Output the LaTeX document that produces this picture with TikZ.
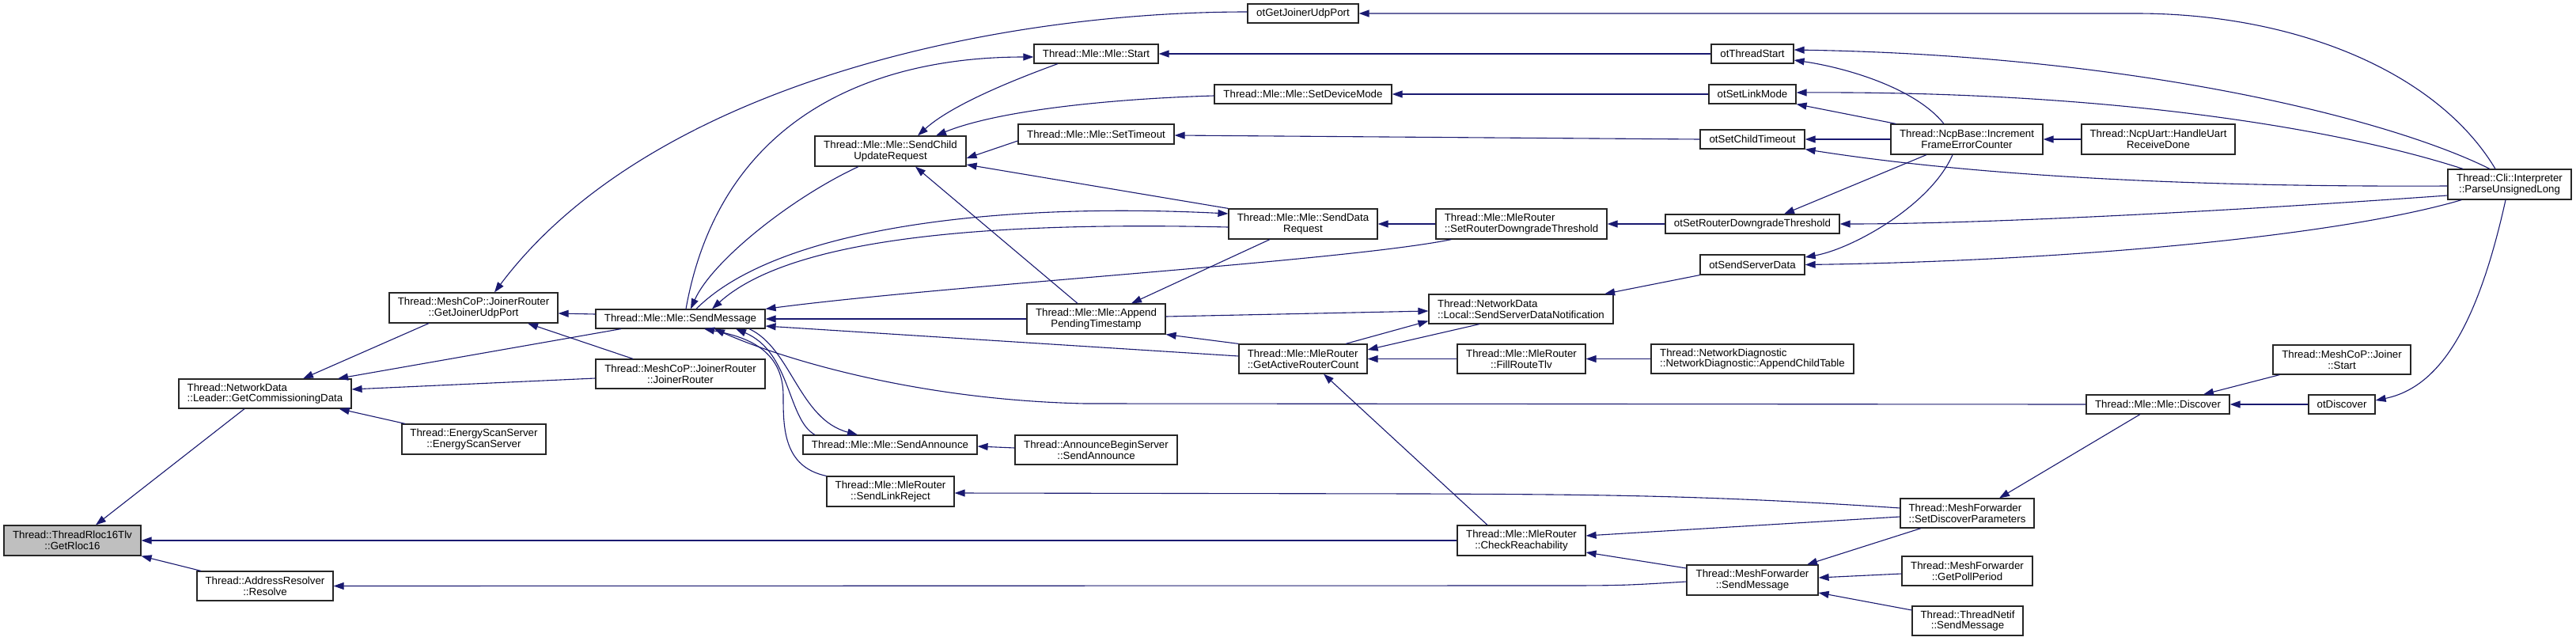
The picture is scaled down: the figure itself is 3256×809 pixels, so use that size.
\documentclass[tikz,border=0pt]{standalone}
\usepackage{fontspec}
\setmainfont{Liberation Sans}
\usetikzlibrary{arrows.meta}
\definecolor{edgeblue}{RGB}{25,25,112}
\definecolor{boxgray}{RGB}{191,191,191}
\begin{document}
\begin{tikzpicture}[x=1pt,y=-1pt,
  box/.style={draw=black!85, line width=1.2pt, fill=white, inner sep=0pt, align=center, font=\fontsize{13.3pt}{13.8pt}\selectfont},
  lbox/.style={box, align=left},
  e/.style={draw=edgeblue, line width=1.1pt, -{Triangle[length=13pt,width=9pt]}}]
\fill[white] (0,0) rectangle (3256,809);
% rank 0
\node[box, fill=boxgray, minimum width=173pt, minimum height=38pt] (n0) at (91.5,683) {Thread::ThreadRloc16Tlv\\::GetRloc16};
% rank 1
\node[lbox, minimum width=218pt, minimum height=37pt] (lead) at (335,497.5) {Thread::NetworkData\\::Leader::GetCommissioningData};
\node[box, minimum width=172pt, minimum height=37pt] (resolve) at (335,740.5) {Thread::AddressResolver\\::Resolve};
% rank 2
\node[box, minimum width=213pt, minimum height=38pt] (gjup) at (598.5,389) {Thread::MeshCoP::JoinerRouter\\::GetJoinerUdpPort};
\node[box, minimum width=182pt, minimum height=38pt] (ess) at (599,555) {Thread::EnergyScanServer\\::EnergyScanServer};
% rank 3
\node[box, minimum width=214pt, minimum height=24pt] (sendmsg) at (860,403) {Thread::Mle::Mle::SendMessage};
\node[box, minimum width=214pt, minimum height=37pt] (jr) at (860,472.5) {Thread::MeshCoP::JoinerRouter\\::JoinerRouter};
% rank 4
\node[box, minimum width=191pt, minimum height=38pt] (scur) at (1125.5,191) {Thread::Mle::Mle::SendChild\\UpdateRequest};
\node[box, minimum width=220pt, minimum height=24pt] (sann) at (1125,562) {Thread::Mle::Mle::SendAnnounce};
\node[box, minimum width=161pt, minimum height=38pt] (slr) at (1125.5,621) {Thread::Mle::MleRouter\\::SendLinkReject};
% rank 5
\node[box, minimum width=157pt, minimum height=24pt] (start) at (1385.5,68) {Thread::Mle::Mle::Start};
\node[box, minimum width=197pt, minimum height=25pt] (stimeout) at (1385.5,169.5) {Thread::Mle::Mle::SetTimeout};
\node[box, minimum width=175pt, minimum height=38pt] (apt) at (1385.5,403) {Thread::Mle::Mle::Append\\PendingTimestamp};
\node[box, minimum width=205pt, minimum height=37pt] (abs) at (1385.5,568.5) {Thread::AnnounceBeginServer\\::SendAnnounce};
% rank 6
\node[box, minimum width=140pt, minimum height=24pt] (otgjup) at (1647,17) {otGetJoinerUdpPort};
\node[box, minimum width=224pt, minimum height=24pt] (sdm) at (1647,119) {Thread::Mle::Mle::SetDeviceMode};
\node[box, minimum width=188pt, minimum height=38pt] (sdr) at (1647,283) {Thread::Mle::Mle::SendData\\Request};
\node[lbox, minimum width=162pt, minimum height=37pt] (garc) at (1647,453.5) {Thread::Mle::MleRouter\\::GetActiveRouterCount};
% rank 7
\node[lbox, minimum width=216pt, minimum height=38pt] (srdt) at (1923,283) {Thread::Mle::MleRouter\\::SetRouterDowngradeThreshold};
\node[lbox, minimum width=233pt, minimum height=37pt] (ssdn) at (1922.5,390.5) {Thread::NetworkData\\::Local::SendServerDataNotification};
\node[box, minimum width=162pt, minimum height=37pt] (frt) at (1923,453.5) {Thread::Mle::MleRouter\\::FillRouteTlv};
\node[box, minimum width=162pt, minimum height=38pt] (cr) at (1923,683) {Thread::Mle::MleRouter\\::CheckReachability};
% rank 8
\node[box, minimum width=104pt, minimum height=24pt] (otts) at (2215,68) {otThreadStart};
\node[box, minimum width=110pt, minimum height=24pt] (otslm) at (2215,119) {otSetLinkMode};
\node[box, minimum width=132pt, minimum height=24pt] (otsct) at (2215,176) {otSetChildTimeout};
\node[box, minimum width=220pt, minimum height=24pt] (otsrdt) at (2215,283) {otSetRouterDowngradeThreshold};
\node[box, minimum width=132pt, minimum height=25pt] (otssd) at (2215,334.5) {otSendServerData};
\node[lbox, minimum width=256pt, minimum height=37pt] (act) at (2215,453.5) {Thread::NetworkDiagnostic\\::NetworkDiagnostic::AppendChildTable};
\node[box, minimum width=166pt, minimum height=38pt] (mfsm) at (2215,733) {Thread::MeshForwarder\\::SendMessage};
% rank 9
\node[box, minimum width=192pt, minimum height=38pt] (ifec) at (2486,176) {Thread::NcpBase::Increment\\FrameErrorCounter};
\node[lbox, minimum width=169pt, minimum height=37pt] (sdp) at (2486.5,648.5) {Thread::MeshForwarder\\::SetDiscoverParameters};
\node[box, minimum width=165pt, minimum height=37pt] (gpp) at (2486.5,721.5) {Thread::MeshForwarder\\::GetPollPeriod};
\node[box, minimum width=140pt, minimum height=37pt] (tnsm) at (2487,784.5) {Thread::ThreadNetif\\::SendMessage};
% rank 10
\node[box, minimum width=194pt, minimum height=38pt] (hurd) at (2728,176) {Thread::NcpUart::HandleUart\\ReceiveDone};
\node[box, minimum width=181pt, minimum height=24pt] (disc) at (2727.5,511) {Thread::Mle::Mle::Discover};
% rank 11
\node[box, minimum width=174pt, minimum height=37pt] (jstart) at (2960,454.5) {Thread::MeshCoP::Joiner\\::Start};
\node[box, minimum width=84pt, minimum height=24pt] (otdisc) at (2960,511) {otDiscover};
% rank 12
\node[box, minimum width=156pt, minimum height=38pt] (cli) at (3172,233) {Thread::Cli::Interpreter\\::ParseUnsignedLong};

% edges
\draw[e] ([xshift=-26pt]lead.south) -- ([xshift=29.5pt]n0.north);
\draw[e] (cr.west) -- (n0.east);
\draw[e] ([xshift=-81pt]resolve.north) -- (n0.south east);
\draw[e] ([xshift=-56.5pt]gjup.south) -- ([xshift=48pt]lead.north);
\draw[e] ([xshift=-75pt]sendmsg.south) -- ([xshift=92pt]lead.north);
\draw[e] ([yshift=-5.5pt]jr.west) -- ([yshift=5.5pt]lead.east);
\draw[e] ([xshift=-87pt]ess.north) -- ([xshift=-16pt]lead.south east);
\draw[e] ([yshift=-2pt]mfsm.west) .. controls (2050,740) .. (1950,740) -- (resolve.east);
\draw[e] ([yshift=2pt]otgjup.west) .. controls (1250,15) and (820,110) .. ([xshift=26.5pt]gjup.north);
\draw[e] ([yshift=6pt]sendmsg.west) -- ([yshift=-7pt]gjup.east);
\draw[e] ([xshift=-60pt]jr.north) -- ([xshift=68.5pt]gjup.south);

\draw[e] ([xshift=7pt]sendmsg.north) .. controls (910,150) and (1100,72) .. ([yshift=-4pt]start.west);
\draw[e] ([xshift=-40.5pt]scur.south) .. controls (1000,250) and (900,330) .. ([xshift=13pt]sendmsg.north);
\draw[e] ([xshift=20pt]sendmsg.north) .. controls (980,290) and (1250,255) .. ([yshift=13pt]sdr.west);
\draw[e] ([yshift=-4pt]sdr.west) .. controls (1250,280) and (1000,300) .. ([xshift=40pt]sendmsg.north);
\draw[e] ([xshift=20pt]srdt.south west) .. controls (1700,330) and (1200,360) .. (sendmsg.north east);
\draw[e] (apt.west) -- (sendmsg.east);
\draw[e] ([yshift=3.5pt]garc.west) -- ([yshift=-9pt]sendmsg.east);
\draw[e] (slr.north west) .. controls (990,590) and (990,540) .. (990,500) .. controls (990,440) and (940,425) .. ([xshift=30pt]sendmsg.south);
\draw[e] ([xshift=-95pt]sann.north) .. controls (995,530) and (1000,445) .. ([xshift=70pt]sendmsg.south);
\draw[e] ([xshift=87pt]sendmsg.south) .. controls (1000,440) and (1010,530) .. ([xshift=-41pt]sann.north);
\draw[e] (disc.west) -- (1371,510) .. controls (1150,505) and (980,450) .. ([xshift=43pt]sendmsg.south);
\draw[e] ([yshift=2.5pt]abs.west) -- ([yshift=-2pt]sann.east);

\draw[e] ([yshift=6.5pt]sdp.west) .. controls (2150,625) and (2000,625) .. (1800,624) -- ([yshift=-2pt]slr.east);
\draw[e] ([yshift=-4.5pt]sdp.west) -- ([yshift=6pt]cr.east);
\draw[e] ([yshift=15pt]mfsm.west) -- ([yshift=-15pt]cr.east);
\draw[e] ([xshift=-22.5pt]disc.south) -- ([xshift=40.5pt]sdp.north);
\draw[e] ([xshift=-58.5pt]sdp.south) -- ([xshift=69pt]mfsm.north);
\draw[e] ([yshift=-3.5pt]gpp.west) -- ([yshift=3pt]mfsm.east);
\draw[e] ([yshift=13.5pt]tnsm.west) -- ([yshift=-16pt]mfsm.east);
\draw[e] ([xshift=9pt]jstart.south west) -- ([xshift=57.5pt]disc.north);
\draw[e] (otdisc.west) -- (disc.east);
\draw[e] ([xshift=-5pt]cli.south) .. controls (3130,420) and (3080,490) .. ([yshift=5pt]otdisc.east);

\draw[e] (otts.west) -- (start.east);
\draw[e] (otslm.west) -- (sdm.east);
\draw[e] (otsct.west) -- ([yshift=-1.5pt]stimeout.east);
\draw[e] ([yshift=-2pt]sdm.west) .. controls (1400,125) and (1260,140) .. ([xshift=57.5pt]scur.north);
\draw[e] ([xshift=-48.5pt]start.south) .. controls (1270,105) and (1200,135) .. ([xshift=34.5pt]scur.north);
\draw[e] ([yshift=-8.5pt]stimeout.west) -- ([yshift=-9pt]scur.east);
\draw[e] (sdr.north west) -- ([yshift=-17pt]scur.east);
\draw[e] ([xshift=-23.5pt]apt.north) -- ([xshift=31.5pt]scur.south);
\draw[e] (srdt.west) -- (sdr.east);
\draw[e] ([xshift=-42pt]sdr.south) -- ([xshift=44.5pt]apt.north);
\draw[e] (otsrdt.west) -- (srdt.east);
\draw[e] ([yshift=3pt]apt.east) -- ([yshift=-2.5pt]ssdn.west);
\draw[e] (garc.north west) -- (apt.south east);
\draw[e] ([xshift=54pt]garc.north) -- ([yshift=4pt]ssdn.south west);
\draw[e] ([xshift=-52.5pt]ssdn.south) -- ([yshift=11.5pt]garc.east);
\draw[e] (otssd.south west) -- ([xshift=-11.5pt]ssdn.north east);
\draw[e] (frt.west) -- (garc.east);
\draw[e] ([xshift=-43pt]cr.north) -- ([xshift=26pt]garc.south);
\draw[e] (act.west) -- (frt.east);

\draw[e] ([xshift=-29pt]ifec.north) .. controls (2420,110) and (2330,85) .. ([yshift=-8pt]otts.east);
\draw[e] ([xshift=7pt]ifec.north west) -- (otslm.south east);
\draw[e] (ifec.west) -- (otsct.east);
\draw[e] ([xshift=-51pt]ifec.south) -- ([xshift=40pt]otsrdt.north);
\draw[e] ([xshift=-18pt]ifec.south) .. controls (2440,260) and (2340,315) .. ([yshift=9.5pt]otssd.east);
\draw[e] (hurd.west) -- (ifec.east);

\draw[e] ([xshift=-18pt]cli.north) .. controls (3080,90) and (2900,17) .. (2700,17) -- (otgjup.east);
\draw[e] ([xshift=-25pt]cli.north) .. controls (3020,150) and (2700,70) .. ([yshift=5pt]otts.east);
\draw[e] ([xshift=-59pt]cli.north) .. controls (2980,170) and (2700,115) .. ([yshift=2pt]otslm.east);
\draw[e] ([yshift=-2pt]cli.west) .. controls (2700,237) and (2450,215) .. (otsct.south east);
\draw[e] ([yshift=-14pt]cli.west) .. controls (2800,268) and (2500,283) .. (otsrdt.east);
\draw[e] ([xshift=18pt]cli.south west) .. controls (2950,300) and (2600,330) .. (otssd.east);
\end{tikzpicture}
\end{document}
